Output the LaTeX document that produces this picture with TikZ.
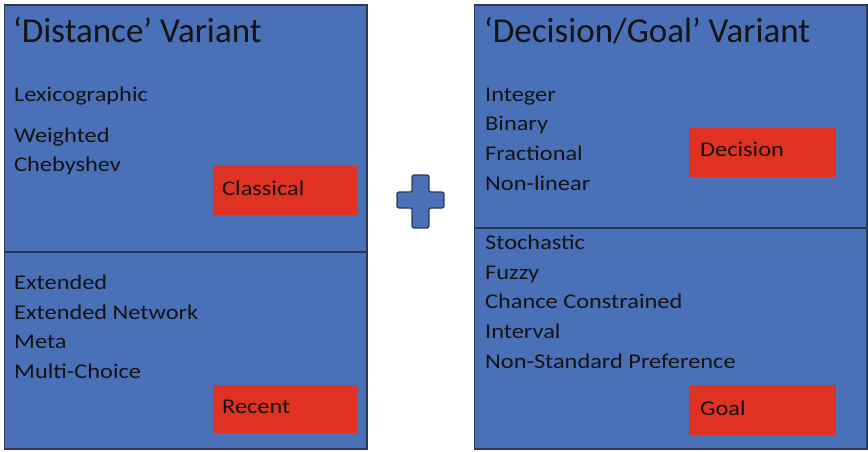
\documentclass[tikz,border=0pt]{standalone}
\usepackage{fontspec}
\setmainfont{Carlito}
\newfontfamily\bodyfont[FakeStretch=1.16]{Carlito}
\definecolor{boxblue}{HTML}{4A70B8}
\definecolor{boxred}{HTML}{E03222}
\definecolor{edge}{HTML}{2B3A55}
\definecolor{ink}{HTML}{141414}
\begin{document}
\begin{tikzpicture}[x=1pt,y=-1pt,
  panel/.style={draw=edge,line width=1.3pt,fill=boxblue},
  tag/.style={fill=boxred,draw=none},
  title/.style={anchor=base west,inner sep=0pt,text=ink,font=\fontsize{35}{37}\selectfont},
  item/.style={anchor=base west,inner sep=0pt,text=ink,font=\bodyfont\fontsize{21}{24}\selectfont},
  taglabel/.style={anchor=west,inner sep=0pt,text=ink,font=\bodyfont\fontsize{21}{24}\selectfont}]
\useasboundingbox (0,0) rectangle (868,452);
\fill[white] (0,0) rectangle (868,452);
% left panel
\draw[panel] (4.5,5) rectangle (367,449);
\draw[edge,line width=1.3pt] (4.5,252) -- (367,252);
% right panel
\draw[panel] (474.5,5) rectangle (867,449);
\draw[edge,line width=1.3pt] (474.5,228) -- (867,228);
% red tags
\node[tag,minimum width=145pt,minimum height=49pt,anchor=north west,inner sep=0pt] (classical) at (213,166) {};
\node[tag,minimum width=145pt,minimum height=48pt,anchor=north west,inner sep=0pt] (recent) at (213,385) {};
\node[tag,minimum width=147pt,minimum height=49pt,anchor=north west,inner sep=0pt] (decision) at (689,128) {};
\node[tag,minimum width=147pt,minimum height=50pt,anchor=north west,inner sep=0pt] (goal) at (689,385) {};
\node[taglabel] (lclassical) at (222,188) {Classical};
\node[taglabel] (lrecent) at (222,407) {Recent};
\node[taglabel] (ldecision) at (700,149) {Decision};
\node[taglabel] (lgoal) at (700,408) {Goal};
% titles
\node[title] (t1) at (13,43) {‘Distance’ Variant};
\node[title] (t2) at (484,43) {‘Decision/Goal’ Variant};
% left items
\node[item] (a1) at (14,102) {Lexicographic};
\node[item] (a2) at (14,142) {Weighted};
\node[item] (a3) at (14,171) {Chebyshev};
\node[item] (b1) at (14,289) {Extended};
\node[item] (b2) at (14,319) {Extended Network};
\node[item] (b3) at (14,348) {Meta};
\node[item] (b4) at (14,378) {Multi-Choice};
% right items
\node[item] (c1) at (485,102) {Integer};
\node[item] (c2) at (485,131) {Binary};
\node[item] (c3) at (485,160) {Fractional};
\node[item] (c4) at (485,190) {Non-linear};
\node[item] (d1) at (485,249) {Stochastic};
\node[item] (d2) at (485,279) {Fuzzy};
\node[item] (d3) at (485,308) {Chance Constrained};
\node[item] (d4) at (485,338) {Interval};
\node[item] (d5) at (485,368) {Non-Standard Preference};
% plus sign
\draw[fill=boxblue,draw=edge,line width=1.2pt,rounded corners=2pt]
  (412,175) -- (429,175) -- (429,192) -- (444,192) -- (444,208) -- (429,208)
  -- (429,228) -- (412,228) -- (412,208) -- (397,208) -- (397,192) -- (412,192) -- cycle;
\end{tikzpicture}
\end{document}
